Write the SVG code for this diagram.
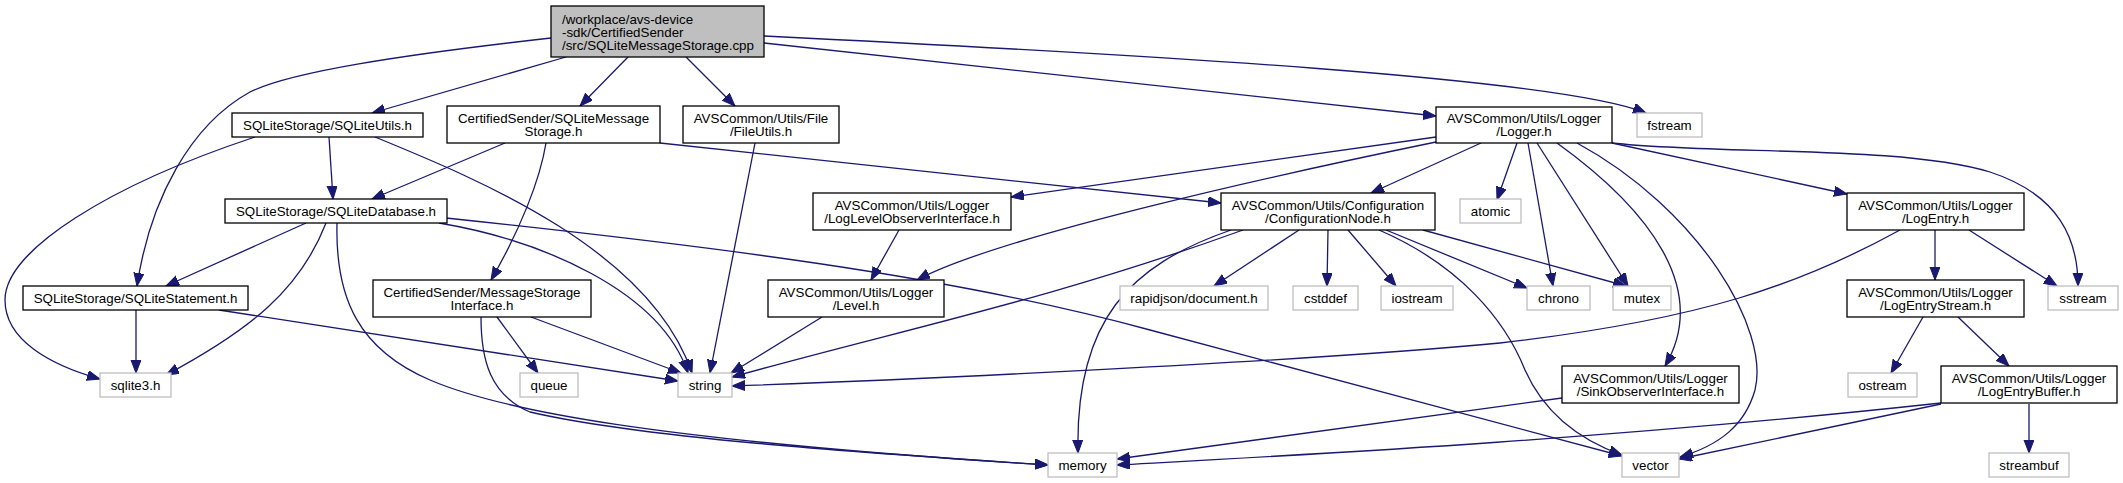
<svg xmlns="http://www.w3.org/2000/svg" width="2123" height="483" viewBox="0 0 2123 483">
<style>
.n rect{fill:#fff;stroke:#000;stroke-width:1.3}
.g rect{fill:#fff;stroke:#bfbfbf;stroke-width:1.3}
.root rect{fill:#bfbfbf;stroke:#000;stroke-width:1.3}
text{font-family:"Liberation Sans",Arial,Helvetica,sans-serif;font-size:13.33px;fill:#000;text-anchor:middle}
.root text{text-anchor:start}
#edges path{fill:none;stroke:#191970;stroke-width:1.3;marker-end:url(#arr)}
</style>
<defs>
<marker id="arr" markerUnits="userSpaceOnUse" markerWidth="15" markerHeight="12" refX="13" refY="5" orient="auto">
<path d="M0,0 L13,5 L0,10 z" fill="#191970" stroke="#191970" stroke-width="1"/>
</marker>
</defs>
<g id="edges">
<path d="M566,57 L372,113"/>
<path d="M628,57 L580,106"/>
<path d="M686,57 L735,106"/>
<path d="M764,43 L1436,116"/>
<path d="M764,36 C1150,55 1560,78 1646,113"/>
<path d="M551,38 C400,55 290,72 250,92 C190,125 150,200 137,286"/>
<path d="M255,137 C110,185 5,250 5,300 C5,340 50,365 100,379"/>
<path d="M329,137 L333,199"/>
<path d="M375,137 C480,180 650,250 692,373"/>
<path d="M505,143 L372,199"/>
<path d="M546,143 C540,180 520,230 491,280"/>
<path d="M660,143 L1221,203"/>
<path d="M755,143 L710,373"/>
<path d="M306,223 L166,286"/>
<path d="M326,223 C300,290 250,330 166,375"/>
<path d="M439,223 C540,240 660,290 688,373"/>
<path d="M337,223 C335,300 360,350 430,380 C500,410 650,440 1048,465"/>
<path d="M446,218 C700,245 950,275 1150,330 L1622,456"/>
<path d="M136,310 L136,373"/>
<path d="M219,310 L678,381"/>
<path d="M497,317 L538,373"/>
<path d="M531,317 L681,373"/>
<path d="M481,317 C481,360 490,395 530,412 C650,440 900,455 1048,465"/>
<path d="M822,317 L731,373"/>
<path d="M899,230 L871,280"/>
<path d="M1436,137 L1011,197"/>
<path d="M1436,142 C1300,170 1000,235 917,280"/>
<path d="M1481,143 L1371,193"/>
<path d="M1517,143 L1497,200"/>
<path d="M1528,143 L1553,286"/>
<path d="M1537,143 L1628,286"/>
<path d="M1557,143 C1650,210 1710,290 1665,366"/>
<path d="M1577,143 C1700,210 1770,330 1755,390 C1745,425 1720,445 1680,457"/>
<path d="M1612,143 L1847,194"/>
<path d="M1612,143 C1720,155 1900,145 1990,172 C2060,195 2078,240 2078,286"/>
<path d="M1299,230 L1214,286"/>
<path d="M1328,230 L1327,286"/>
<path d="M1348,230 L1396,286"/>
<path d="M1386,230 L1527,288"/>
<path d="M1423,230 L1626,286"/>
<path d="M1379,230 C1460,265 1505,320 1525,370 C1545,415 1580,440 1622,455"/>
<path d="M1231,230 C1130,265 1075,320 1078,453"/>
<path d="M1243,230 C1050,300 900,330 732,377"/>
<path d="M1935,230 L1935,280"/>
<path d="M1969,230 L2057,286"/>
<path d="M1900,230 C1800,285 1700,320 1500,343 C1300,362 900,380 732,386"/>
<path d="M1923,317 L1891,373"/>
<path d="M1958,317 L2009,366"/>
<path d="M2029,404 L2029,453"/>
<path d="M1941,403 C1600,440 1300,455 1117,465"/>
<path d="M1941,404 L1679,459"/>
<path d="M1562,398 L1117,459"/>
</g>
<g id="main" class="root"><rect x="551" y="6" width="213" height="51"/><text x="562" y="23.5">/workplace/avs-device</text><text x="562" y="36.5">-sdk/CertifiedSender</text><text x="562" y="49.5">/src/SQLiteMessageStorage.cpp</text></g>
<g id="sqliteutils" class="n"><rect x="232" y="113" width="191" height="24"/><text x="327.5" y="129.7">SQLiteStorage/SQLiteUtils.h</text></g>
<g id="sqlitemessagestorage" class="n"><rect x="447" y="106" width="213" height="37"/><text x="553.5" y="122.7">CertifiedSender/SQLiteMessage</text><text x="553.5" y="135.7">Storage.h</text></g>
<g id="fileutils" class="n"><rect x="683" y="106" width="156" height="37"/><text x="761" y="122.7">AVSCommon/Utils/File</text><text x="761" y="135.7">/FileUtils.h</text></g>
<g id="logger" class="n"><rect x="1436" y="107" width="176" height="36"/><text x="1524" y="123.2">AVSCommon/Utils/Logger</text><text x="1524" y="136.2">/Logger.h</text></g>
<g id="fstream" class="g"><rect x="1637" y="113" width="65" height="24"/><text x="1669.5" y="129.7">fstream</text></g>
<g id="sqlitedatabase" class="n"><rect x="225" y="199" width="222" height="24"/><text x="336" y="215.7">SQLiteStorage/SQLiteDatabase.h</text></g>
<g id="loglevelobserver" class="n"><rect x="813" y="193" width="198" height="37"/><text x="912" y="209.7">AVSCommon/Utils/Logger</text><text x="912" y="222.7">/LogLevelObserverInterface.h</text></g>
<g id="configurationnode" class="n"><rect x="1221" y="193" width="214" height="37"/><text x="1328" y="209.7">AVSCommon/Utils/Configuration</text><text x="1328" y="222.7">/ConfigurationNode.h</text></g>
<g id="atomic" class="g"><rect x="1460" y="199" width="61" height="24"/><text x="1490.5" y="215.7">atomic</text></g>
<g id="logentry" class="n"><rect x="1847" y="193" width="177" height="37"/><text x="1935.5" y="209.7">AVSCommon/Utils/Logger</text><text x="1935.5" y="222.7">/LogEntry.h</text></g>
<g id="sqlitestatement" class="n"><rect x="23" y="286" width="225" height="24"/><text x="135.5" y="302.7">SQLiteStorage/SQLiteStatement.h</text></g>
<g id="messagestorageinterface" class="n"><rect x="373" y="280" width="218" height="37"/><text x="482" y="296.7">CertifiedSender/MessageStorage</text><text x="482" y="309.7">Interface.h</text></g>
<g id="level" class="n"><rect x="768" y="280" width="176" height="37"/><text x="856" y="296.7">AVSCommon/Utils/Logger</text><text x="856" y="309.7">/Level.h</text></g>
<g id="rapidjson" class="g"><rect x="1120" y="286" width="148" height="24"/><text x="1194" y="302.7">rapidjson/document.h</text></g>
<g id="cstddef" class="g"><rect x="1293" y="286" width="65" height="24"/><text x="1325.5" y="302.7">cstddef</text></g>
<g id="iostream" class="g"><rect x="1381" y="286" width="72" height="24"/><text x="1417" y="302.7">iostream</text></g>
<g id="chrono" class="g"><rect x="1527" y="286" width="63" height="24"/><text x="1558.5" y="302.7">chrono</text></g>
<g id="mutex" class="g"><rect x="1613" y="286" width="58" height="24"/><text x="1642" y="302.7">mutex</text></g>
<g id="logentrystream" class="n"><rect x="1847" y="280" width="177" height="37"/><text x="1935.5" y="296.7">AVSCommon/Utils/Logger</text><text x="1935.5" y="309.7">/LogEntryStream.h</text></g>
<g id="sstream" class="g"><rect x="2048" y="286" width="70" height="24"/><text x="2083" y="302.7">sstream</text></g>
<g id="sqlite3" class="g"><rect x="100" y="373" width="71" height="24"/><text x="135.5" y="389.7">sqlite3.h</text></g>
<g id="queue" class="g"><rect x="520" y="373" width="58" height="24"/><text x="549" y="389.7">queue</text></g>
<g id="string" class="g"><rect x="678" y="373" width="54" height="24"/><text x="705" y="389.7">string</text></g>
<g id="sinkobserver" class="n"><rect x="1562" y="366" width="177" height="37"/><text x="1650.5" y="382.7">AVSCommon/Utils/Logger</text><text x="1650.5" y="395.7">/SinkObserverInterface.h</text></g>
<g id="ostream" class="g"><rect x="1848" y="373" width="69" height="24"/><text x="1882.5" y="389.7">ostream</text></g>
<g id="logentrybuffer" class="n"><rect x="1941" y="366" width="176" height="37"/><text x="2029" y="382.7">AVSCommon/Utils/Logger</text><text x="2029" y="395.7">/LogEntryBuffer.h</text></g>
<g id="memory" class="g"><rect x="1048" y="453" width="69" height="24"/><text x="1082.5" y="469.7">memory</text></g>
<g id="vector" class="g"><rect x="1622" y="453" width="57" height="24"/><text x="1650.5" y="469.7">vector</text></g>
<g id="streambuf" class="g"><rect x="1989" y="453" width="80" height="24"/><text x="2029" y="469.7">streambuf</text></g>
</svg>
